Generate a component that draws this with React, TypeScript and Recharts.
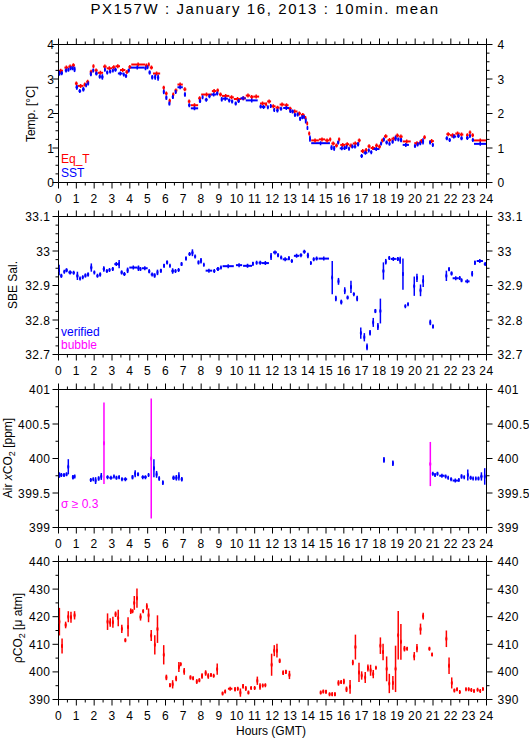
import React from "react";
import { ComposedChart, Scatter, XAxis, YAxis, ErrorBar } from "recharts";

// each entry: [start hour, end hour, value, error half-height]
type Seg = [number, number, number, number];

const hours = [0, 1, 2, 3, 4, 5, 6, 7, 8, 9, 10, 11, 12, 13, 14, 15, 16, 17, 18, 19, 20, 21, 22, 23, 24];
const tempTicks = [0, 1, 2, 3, 4];
const salTicks = [32.7, 32.8, 32.9, 33, 33.1];
const airTicks = [399, 399.5, 400, 400.5, 401];
const pco2Ticks = [390, 400, 410, 420, 430, 440];

const eqT: Seg[] = [
  [0.0, 0.25, 3.24, 0], [0.33, 0.55, 3.33, 0], [0.55, 0.75, 3.36, 0], [0.75, 0.92, 3.4, 0],
  [0.92, 1.08, 2.87, 0], [1.08, 1.4, 2.8, 0], [1.4, 1.55, 2.84, 0], [1.55, 1.72, 2.92, 0],
  [1.75, 1.9, 3.21, 0], [1.9, 2.02, 3.37, 0], [2.02, 2.2, 3.25, 0], [2.2, 2.5, 3.18, 0],
  [2.5, 2.7, 3.36, 0], [2.7, 3.0, 3.31, 0], [3.0, 3.2, 3.34, 0], [3.2, 3.45, 3.37, 0],
  [3.45, 3.75, 3.26, 0], [3.75, 3.92, 3.2, 0], [3.92, 4.08, 3.35, 0], [4.08, 4.85, 3.42, 0],
  [4.85, 5.0, 3.39, 0], [5.0, 5.12, 3.42, 0], [5.12, 5.3, 3.33, 0], [5.3, 5.7, 3.16, 0],
  [5.83, 5.97, 2.75, 0], [5.97, 6.12, 2.58, 0], [6.17, 6.3, 2.37, 0], [6.37, 6.5, 2.55, 0],
  [6.5, 6.67, 2.67, 0], [6.67, 6.97, 2.84, 0], [7.0, 7.17, 2.7, 0], [7.25, 7.4, 2.35, 0],
  [7.42, 7.83, 2.24, 0], [7.83, 8.0, 2.44, 0], [8.0, 8.6, 2.55, 0], [8.6, 8.85, 2.65, 0],
  [8.85, 9.0, 2.67, 0], [9.0, 9.17, 2.55, 0], [9.17, 9.58, 2.51, 0], [9.58, 9.83, 2.47, 0],
  [9.83, 10.25, 2.42, 0], [10.25, 10.5, 2.44, 0], [10.5, 10.75, 2.52, 0], [10.75, 10.92, 2.48, 0],
  [10.92, 11.25, 2.49, 0], [11.3, 11.58, 2.29, 0], [11.58, 11.7, 2.27, 0], [11.7, 11.92, 2.35, 0],
  [11.92, 12.17, 2.21, 0], [12.17, 12.4, 2.17, 0], [12.4, 12.67, 2.26, 0], [12.67, 12.9, 2.24, 0],
  [12.9, 13.08, 2.14, 0], [13.08, 13.4, 2.06, 0], [13.4, 13.6, 2.0, 0], [13.6, 13.8, 1.96, 0],
  [13.8, 13.9, 1.87, 0], [13.9, 14.0, 1.71, 0], [14.0, 14.12, 1.42, 0], [14.17, 14.6, 1.22, 0],
  [14.6, 14.95, 1.25, 0], [14.95, 15.17, 1.22, 0], [15.17, 15.3, 1.25, 0], [15.3, 15.5, 1.13, 0],
  [15.5, 15.67, 1.07, 0], [15.67, 15.8, 1.25, 0], [15.8, 16.08, 1.09, 0], [16.08, 16.3, 1.11, 0],
  [16.3, 16.5, 1.07, 0], [16.5, 16.78, 1.13, 0], [16.78, 16.95, 1.22, 0], [16.95, 17.17, 0.91, 0],
  [17.17, 17.33, 0.94, 0], [17.33, 17.5, 1.05, 0], [17.5, 17.75, 1.0, 0], [17.75, 17.92, 1.07, 0],
  [17.92, 18.08, 1.04, 0], [18.08, 18.25, 1.22, 0], [18.25, 18.45, 1.34, 0], [18.45, 18.67, 1.23, 0],
  [18.67, 18.9, 1.27, 0], [18.9, 19.1, 1.36, 0], [19.1, 19.3, 1.33, 0], [19.3, 19.75, 1.19, 0],
  [19.95, 20.25, 1.14, 0], [20.25, 20.45, 1.2, 0], [20.45, 20.6, 1.31, 0], [20.8, 21.05, 1.2, 0],
  [21.75, 21.95, 1.4, 0], [21.95, 22.25, 1.37, 0], [22.25, 22.5, 1.42, 0], [22.5, 22.7, 1.39, 0],
  [22.85, 23.0, 1.37, 0], [23.0, 23.15, 1.45, 0], [23.15, 23.3, 1.37, 0], [23.3, 24.0, 1.22, 0],
];

const sst: Seg[] = [
  [0.0, 0.1, 3.17, 0.07], [0.1, 0.25, 3.17, 0.05], [0.35, 0.5, 3.25, 0.03], [0.5, 0.62, 3.27, 0],
  [0.62, 0.75, 3.31, 0], [0.75, 0.85, 3.31, 0], [0.85, 0.95, 3.28, 0.08], [0.95, 1.1, 2.76, 0.07],
  [1.12, 1.27, 2.65, 0.03], [1.32, 1.47, 2.7, 0.06], [1.5, 1.6, 2.82, 0.03], [1.6, 1.72, 2.87, 0.02],
  [1.75, 1.88, 3.15, 0.07], [1.9, 2.0, 3.25, 0.03], [2.05, 2.2, 3.16, 0.04], [2.25, 2.37, 3.07, 0.05],
  [2.4, 2.52, 3.06, 0.08], [2.55, 2.65, 3.27, 0.03], [2.67, 2.8, 3.19, 0.03], [2.83, 2.97, 3.22, 0.03],
  [3.0, 3.1, 3.25, 0], [3.12, 3.27, 3.27, 0.02], [3.33, 3.6, 3.16, 0.03], [3.6, 3.72, 3.13, 0],
  [3.72, 3.85, 3.09, 0], [3.87, 4.0, 3.25, 0.03], [4.0, 4.83, 3.33, 0], [4.83, 4.93, 3.31, 0.02],
  [4.93, 5.05, 3.34, 0], [5.05, 5.17, 3.19, 0.05], [5.2, 5.32, 3.05, 0.06], [5.37, 5.48, 3.06, 0.08],
  [5.52, 5.65, 3.04, 0.09], [5.85, 5.95, 2.63, 0.07], [6.0, 6.1, 2.46, 0.06], [6.17, 6.27, 2.29, 0.05],
  [6.35, 6.47, 2.48, 0.05], [6.52, 6.62, 2.62, 0.03], [6.67, 6.97, 2.76, 0.02], [7.03, 7.15, 2.55, 0.06],
  [7.27, 7.4, 2.24, 0.03], [7.42, 7.83, 2.15, 0.03], [7.87, 8.0, 2.36, 0.04], [8.03, 8.13, 2.47, 0],
  [8.2, 8.37, 2.4, 0], [8.4, 8.53, 2.5, 0.02], [8.57, 8.83, 2.55, 0.02], [8.83, 8.97, 2.58, 0.04],
  [9.1, 9.2, 2.41, 0.06], [9.2, 9.5, 2.43, 0], [9.5, 9.65, 2.38, 0.03], [9.67, 9.8, 2.35, 0.03],
  [9.87, 10.0, 2.29, 0.04], [10.03, 10.17, 2.36, 0.03], [10.2, 10.5, 2.44, 0], [10.5, 11.17, 2.38, 0],
  [11.27, 11.4, 2.2, 0.03], [11.4, 11.6, 2.19, 0.03], [11.68, 11.8, 2.18, 0], [11.85, 11.95, 2.22, 0],
  [12.05, 12.15, 2.1, 0.02], [12.2, 12.35, 2.09, 0], [12.4, 12.55, 2.14, 0.03], [12.6, 12.95, 2.16, 0],
  [12.95, 13.05, 2.07, 0.03], [13.05, 13.2, 2.06, 0], [13.2, 13.32, 1.96, 0.03], [13.35, 13.47, 1.97, 0.03],
  [13.5, 13.6, 1.85, 0.05], [13.62, 13.72, 1.89, 0.05], [13.72, 13.82, 1.9, 0.03], [13.82, 13.9, 1.79, 0.08],
  [13.92, 14.0, 1.58, 0], [14.05, 14.15, 1.27, 0.09], [14.17, 15.22, 1.14, 0], [15.25, 15.37, 1.01, 0.07],
  [15.4, 15.52, 0.99, 0.07], [15.62, 15.75, 1.16, 0.04], [15.77, 16.0, 0.99, 0], [16.0, 16.1, 1.0, 0.02],
  [16.1, 16.2, 1.03, 0], [16.23, 16.35, 0.98, 0.03], [16.4, 16.55, 1.04, 0.03], [16.55, 16.7, 1.04, 0],
  [16.73, 16.87, 1.11, 0.06], [16.93, 17.07, 0.77, 0.03], [17.1, 17.32, 0.86, 0], [17.35, 17.45, 0.93, 0.02],
  [17.48, 17.6, 0.88, 0.03], [17.63, 18.0, 0.97, 0], [18.03, 18.15, 1.13, 0.03], [18.18, 18.3, 1.25, 0.05],
  [18.33, 18.47, 1.16, 0.03], [18.5, 18.62, 1.12, 0], [18.67, 18.8, 1.18, 0], [18.83, 18.97, 1.28, 0.08],
  [19.0, 19.12, 1.25, 0.04], [19.15, 19.27, 1.23, 0.06], [19.3, 19.65, 1.09, 0], [19.93, 20.05, 1.06, 0.02],
  [20.07, 20.2, 1.1, 0.02], [20.23, 20.35, 1.14, 0.04], [20.38, 20.5, 1.19, 0.09], [20.78, 20.9, 1.16, 0.04],
  [20.93, 21.05, 1.09, 0], [21.7, 21.85, 1.28, 0.03], [21.87, 22.0, 1.23, 0], [22.03, 22.3, 1.33, 0.03],
  [22.35, 22.5, 1.35, 0], [22.53, 22.67, 1.28, 0.03], [22.85, 23.0, 1.29, 0], [23.02, 23.12, 1.35, 0.03],
  [23.17, 23.3, 1.23, 0.03], [23.3, 24.0, 1.12, 0],
];

const sal: Seg[] = [
  [0.0, 0.07, 32.945, 0.015], [0.1, 0.22, 32.928, 0.005], [0.27, 0.38, 32.94, 0], [0.38, 0.52, 32.944, 0.005],
  [0.55, 0.75, 32.938, 0.005], [0.78, 0.92, 32.937, 0], [1.0, 1.12, 32.928, 0.012], [1.15, 1.27, 32.92, 0],
  [1.3, 1.42, 32.924, 0], [1.45, 1.57, 32.929, 0.005], [1.6, 1.72, 32.932, 0.005], [1.78, 1.9, 32.952, 0.012],
  [1.95, 2.07, 32.938, 0], [2.12, 2.25, 32.928, 0], [2.28, 2.4, 32.932, 0.005], [2.48, 2.6, 32.948, 0.008],
  [2.65, 2.78, 32.942, 0], [2.8, 2.92, 32.945, 0], [2.98, 3.1, 32.948, 0.005], [3.13, 3.35, 32.962, 0],
  [3.35, 3.45, 32.962, 0.012], [3.48, 3.6, 32.938, 0.005], [3.62, 3.77, 32.933, 0], [3.82, 3.93, 32.944, 0.008],
  [3.97, 4.42, 32.952, 0], [4.42, 4.55, 32.95, 0.008], [4.55, 4.65, 32.948, 0], [4.68, 5.0, 32.95, 0],
  [5.03, 5.15, 32.941, 0.005], [5.17, 5.33, 32.932, 0], [5.33, 5.45, 32.929, 0.006], [5.5, 5.6, 32.938, 0.008],
  [5.68, 5.8, 32.943, 0.005], [5.87, 5.97, 32.957, 0.005], [6.03, 6.15, 32.967, 0.005], [6.2, 6.3, 32.957, 0],
  [6.33, 6.47, 32.942, 0.008], [6.5, 6.62, 32.942, 0], [6.67, 6.8, 32.945, 0], [6.85, 6.95, 32.962, 0.005],
  [7.1, 7.2, 32.978, 0.005], [7.28, 7.42, 32.991, 0], [7.45, 7.57, 32.995, 0.01], [7.6, 7.72, 32.984, 0],
  [7.8, 7.9, 32.967, 0.005], [7.93, 8.05, 32.972, 0.008], [8.1, 8.2, 32.96, 0], [8.25, 8.62, 32.943, 0],
  [8.67, 8.8, 32.942, 0], [8.85, 9.03, 32.948, 0.005], [9.05, 9.17, 32.952, 0], [9.2, 9.83, 32.956, 0],
  [9.95, 10.3, 32.959, 0], [10.35, 10.85, 32.957, 0.004], [10.85, 10.95, 32.963, 0.005], [11.05, 11.17, 32.966, 0],
  [11.22, 11.4, 32.966, 0], [11.4, 11.8, 32.965, 0], [11.87, 11.97, 32.984, 0.01], [12.03, 12.25, 32.996, 0],
  [12.25, 12.37, 32.988, 0.005], [12.42, 12.55, 32.981, 0], [12.57, 12.85, 32.976, 0], [12.87, 12.97, 32.979, 0.005],
  [13.02, 13.15, 32.971, 0], [13.2, 13.5, 32.986, 0.003], [13.52, 13.67, 32.988, 0], [13.7, 13.87, 32.998, 0],
  [13.92, 14.05, 32.987, 0.008], [14.1, 14.2, 32.965, 0.003], [14.25, 14.37, 32.976, 0.003], [14.4, 14.55, 32.978, 0],
  [14.58, 15.17, 32.978, 0], [15.3, 15.4, 32.923, 0.048], [15.5, 15.6, 32.862, 0.008], [15.65, 15.75, 32.912, 0.01],
  [15.8, 15.92, 32.852, 0.007], [16.0, 16.1, 32.885, 0.01], [16.15, 16.27, 32.865, 0.004], [16.35, 16.45, 32.896, 0.018],
  [16.5, 16.62, 32.875, 0.003], [16.7, 16.8, 32.862, 0.008], [16.9, 17.0, 32.762, 0.016], [17.1, 17.2, 32.75, 0.012],
  [17.25, 17.35, 32.722, 0.01], [17.42, 17.52, 32.763, 0.008], [17.6, 17.7, 32.793, 0.013], [17.72, 17.82, 32.826, 0.006],
  [17.87, 17.95, 32.781, 0.01], [18.0, 18.1, 32.826, 0.036], [18.17, 18.27, 32.942, 0.025], [18.3, 18.4, 32.969, 0.008],
  [18.5, 18.6, 32.98, 0.004], [18.63, 18.92, 32.977, 0], [18.95, 19.1, 32.977, 0.005], [19.12, 19.2, 32.973, 0.01],
  [19.28, 19.35, 32.933, 0.045], [19.4, 19.5, 32.84, 0.002], [19.55, 19.65, 32.846, 0.002], [19.9, 20.0, 32.898, 0.028],
  [20.05, 20.15, 32.922, 0.012], [20.25, 20.35, 32.886, 0.017], [20.4, 20.5, 32.913, 0.017], [20.8, 20.9, 32.793, 0.008],
  [20.95, 21.05, 32.781, 0.005], [21.7, 21.8, 32.928, 0.015], [21.85, 21.95, 32.947, 0.005], [21.98, 22.1, 32.935, 0.005],
  [22.1, 22.45, 32.921, 0], [22.45, 22.55, 32.922, 0], [22.55, 22.65, 32.915, 0.004], [22.8, 23.05, 32.912, 0],
  [23.15, 23.25, 32.934, 0.008], [23.3, 23.4, 32.966, 0.006], [23.45, 23.8, 32.971, 0], [23.85, 24.0, 32.962, 0],
];

const airCo2: Seg[] = [
  [0.0, 0.1, 399.76, 0.04], [0.1, 0.22, 399.76, 0.02], [0.25, 0.37, 399.76, 0.02], [0.4, 0.5, 399.77, 0.02],
  [0.5, 0.6, 399.88, 0.11], [0.75, 0.87, 399.73, 0.03], [0.87, 0.95, 399.74, 0], [1.75, 1.87, 399.69, 0],
  [1.9, 2.0, 399.7, 0], [2.03, 2.13, 399.68, 0.05], [2.2, 2.3, 399.71, 0.03], [2.35, 2.45, 399.74, 0.05],
  [2.68, 2.82, 399.73, 0], [2.85, 3.03, 399.72, 0], [3.07, 3.15, 399.74, 0.01], [3.2, 3.3, 399.72, 0.02],
  [3.35, 3.45, 399.73, 0.02], [3.5, 3.62, 399.7, 0], [3.65, 3.85, 399.7, 0], [4.1, 4.2, 399.73, 0.03],
  [4.25, 4.35, 399.78, 0.05], [4.4, 4.52, 399.77, 0.02], [4.65, 4.8, 399.73, 0], [4.8, 4.95, 399.73, 0],
  [5.0, 5.1, 399.76, 0], [5.3, 5.4, 399.86, 0.13], [5.45, 5.55, 399.77, 0.05], [5.6, 5.7, 399.71, 0.03],
  [5.8, 5.9, 399.65, 0.03], [6.38, 6.52, 399.72, 0.03], [6.55, 6.67, 399.72, 0.04], [6.7, 6.8, 399.74, 0.06],
  [6.85, 6.97, 399.7, 0.03], [18.2, 18.3, 399.98, 0.04], [18.7, 18.8, 399.93, 0.04], [20.93, 21.05, 399.78, 0],
  [21.08, 21.15, 399.76, 0.02], [21.2, 21.3, 399.78, 0.02], [21.35, 21.65, 399.75, 0], [21.65, 21.77, 399.74, 0],
  [21.8, 21.9, 399.72, 0], [21.95, 22.08, 399.7, 0], [22.1, 22.4, 399.68, 0], [22.4, 22.5, 399.69, 0],
  [22.55, 22.65, 399.74, 0.03], [22.7, 22.8, 399.73, 0], [22.9, 23.0, 399.76, 0.08], [23.05, 23.17, 399.72, 0.02],
  [23.2, 23.3, 399.71, 0], [23.35, 23.45, 399.71, 0], [23.5, 23.6, 399.71, 0.02], [23.65, 23.78, 399.74, 0.06],
  [23.85, 23.95, 399.74, 0.12],
];

const airCo2Sigma: Seg[] = [
  [2.5, 2.6, 400.22, 0.59], [5.15, 5.25, 400.0, 0.87], [20.8, 20.9, 399.92, 0.32],
];

const pco2: Seg[] = [
  [0.0, 0.1, 418.2, 5], [0.15, 0.25, 409.4, 2.7], [0.35, 0.45, 417, 1.2], [0.5, 0.6, 420, 2],
  [0.65, 0.75, 419.8, 2], [0.85, 0.95, 420.5, 1.5], [2.7, 2.8, 418.2, 3], [2.85, 2.95, 417.9, 1.5],
  [3.0, 3.1, 418, 2], [3.15, 3.25, 420.9, 1], [3.3, 3.4, 419.5, 3], [3.5, 3.6, 415.6, 1.5],
  [3.7, 3.8, 411.5, 0.6], [3.85, 3.95, 416.3, 3.5], [4.0, 4.1, 422, 1], [4.1, 4.2, 422, 0.5],
  [4.2, 4.3, 425, 2.5], [4.35, 4.45, 426.7, 3.5], [4.55, 4.65, 419.9, 1.3], [4.7, 4.8, 422, 0.5],
  [4.9, 5.0, 423.7, 1.2], [5.0, 5.1, 420.5, 2.5], [5.15, 5.25, 413.2, 2], [5.35, 5.45, 409.8, 3.5],
  [5.5, 5.6, 415.5, 5], [5.85, 5.95, 406.2, 3.5], [6.0, 6.1, 398, 1], [6.2, 6.3, 395.2, 0.7],
  [6.35, 6.45, 395.5, 1.5], [6.55, 6.65, 397.6, 1], [6.7, 6.8, 401.8, 1.8], [6.8, 6.9, 402.8, 0.5],
  [7.0, 7.1, 400.2, 1.2], [7.35, 7.45, 398, 0.7], [7.5, 7.6, 397.7, 0.5], [7.7, 7.8, 396.5, 0.8],
  [7.85, 7.95, 397, 0.6], [8.0, 8.1, 398.5, 1], [8.2, 8.3, 399.6, 1], [8.35, 8.45, 398.5, 1],
  [8.5, 8.6, 398.9, 0.5], [8.65, 8.75, 398.6, 0.4], [8.85, 8.95, 401, 2], [9.15, 9.25, 392.2, 0.5],
  [9.3, 9.4, 392.9, 0.5], [9.5, 9.75, 393.9, 0], [9.85, 9.95, 393.7, 0.7], [10.0, 10.1, 393.9, 0.5],
  [10.15, 10.25, 392.5, 1.5], [10.3, 10.4, 394.8, 0.8], [10.45, 10.55, 394, 0.8], [10.6, 10.7, 392.5, 0.5],
  [10.75, 10.85, 394.2, 0.3], [10.95, 11.05, 394.2, 0.3], [11.1, 11.2, 396.8, 1.5], [11.25, 11.35, 394.7, 1.2],
  [11.4, 11.5, 395.1, 0.3], [11.55, 11.65, 395.2, 0.3], [11.9, 12.0, 402.6, 4], [12.05, 12.15, 407.7, 2],
  [12.2, 12.3, 407.7, 2.5], [12.35, 12.45, 404, 0.8], [12.55, 12.65, 399.7, 0.8], [12.7, 12.8, 400, 0.8],
  [12.9, 13.0, 398.9, 1.5], [14.65, 14.75, 392.5, 0.5], [14.8, 14.9, 392.9, 0.5], [14.95, 15.05, 392.8, 0.6],
  [15.15, 15.25, 391.9, 0.4], [15.3, 15.4, 391.9, 0.6], [15.45, 15.55, 391.9, 0.6], [15.65, 15.75, 396, 1],
  [15.8, 15.9, 396.3, 0.5], [15.95, 16.05, 396.5, 1], [16.1, 16.2, 393.7, 1], [16.3, 16.4, 394.6, 2.5],
  [16.45, 16.55, 403.4, 1], [16.6, 16.7, 409, 4.5], [16.8, 16.9, 399.8, 3.5], [16.95, 17.05, 398.7, 1.5],
  [17.15, 17.25, 398, 2], [17.3, 17.4, 401.4, 1.3], [17.45, 17.55, 400.6, 2], [17.6, 17.7, 399.2, 1.5],
  [17.75, 17.85, 401.5, 0.3], [18.0, 18.1, 409.5, 3], [18.15, 18.25, 407.2, 3], [18.35, 18.45, 401.1, 4.5],
  [18.5, 18.6, 395.8, 3.5], [18.7, 18.8, 396, 2.5], [18.85, 18.95, 401.1, 8.4], [19.0, 19.1, 413.3, 8.8],
  [19.15, 19.25, 410.9, 6.5], [19.35, 19.45, 408.4, 1], [19.5, 19.6, 408.4, 0.5], [19.9, 20.0, 405.7, 1.5],
  [20.05, 20.15, 408.6, 1.5], [20.25, 20.35, 415.5, 2], [20.4, 20.5, 420.2, 1.2], [20.75, 20.85, 408.4, 0.5],
  [20.9, 21.0, 406.3, 0.5], [21.7, 21.8, 412, 3], [21.85, 21.95, 402.2, 3], [22.0, 22.1, 396, 2],
  [22.15, 22.25, 393.3, 0.5], [22.3, 22.4, 393.7, 0.5], [22.45, 22.55, 392.7, 0.3], [22.8, 22.9, 393.7, 0.3],
  [22.95, 23.05, 393.7, 0.3], [23.1, 23.2, 393.4, 0.3], [23.25, 23.35, 393.1, 0.3], [23.45, 23.55, 393.5, 0.3],
  [23.6, 23.7, 393.1, 0.3], [23.75, 23.85, 393.8, 0.3],
];

const RED = "#ff0000";
const BLUE = "#0000ff";
const MAGENTA = "#ff00ff";
const FONT = '"Liberation Sans", Arial, Helvetica, sans-serif';

const W = 529;
const PLOT_H = 138;
const AXIS_H = 30;

const toRows = (segs: Seg[]) =>
  segs.map(([a, b, v, e]) => ({ t: (a + b) / 2, v, ex: (b - a) / 2, ey: e }));

const hourTicks = [...hours, ...hours.slice(1).map((h) => h - 0.5)].sort((a, b) => a - b);

// small vertical stroke so every point reads as a "+"
const mark = (color: string) => (p: any) =>
  <line x1={p.cx} x2={p.cx} y1={p.cy - 2} y2={p.cy + 2} stroke={color} strokeWidth={1.5} />;

function XTick(props: any) {
  const { x, y, payload, side } = props;
  const v = payload.value;
  const major = Number.isInteger(v);
  const dir = side === "top" ? -1 : 1;
  return (
    <g>
      <line x1={x} x2={x} y1={y} y2={y + dir * (major ? 6 : 3)} stroke="#000" />
      {side === "bottom" && major && (
        <text x={x} y={y + 20} textAnchor="middle" fontSize={12} fontFamily={FONT} letterSpacing={0.5} fill="#000">
          {v}
        </text>
      )}
    </g>
  );
}

function YTick(props: any) {
  const { x, y, payload, side, majors, step, gap } = props;
  const v = payload.value;
  const m = majors.find((t: number) => Math.abs(t - v) < step / 10);
  const dir = side === "left" ? -1 : 1;
  const len = m !== undefined ? 6 : 3;
  return (
    <g>
      <line x1={x} x2={x + dir * len} y1={y} y2={y} stroke="#000" />
      {m !== undefined && (
        <text
          x={side === "left" ? x - gap : x + 11}
          y={y + 4.5}
          textAnchor={side === "left" ? "end" : "start"}
          fontSize={12}
          fontFamily={FONT}
          letterSpacing={0.5}
          fill="#000"
        >
          {String(m)}
        </text>
      )}
    </g>
  );
}

type Series = { segs: Seg[]; color: string };

function Panel({ top, majors, sub, gap, series }: { top: number; majors: number[]; sub: number; gap: number; series: Series[] }) {
  const step = (majors[1] - majors[0]) / sub;
  const yTicks: number[] = [];
  for (let i = 0; i < majors.length - 1; i++) {
    for (let k = 0; k < sub; k++) yTicks.push(majors[i] + k * step);
  }
  yTicks.push(majors[majors.length - 1]);
  const domain = [majors[0], majors[majors.length - 1]];
  const axisLine = { stroke: "#000", strokeWidth: 1 };
  return (
    <div style={{ position: "absolute", left: 0, top: top - AXIS_H }}>
      <ComposedChart width={W} height={PLOT_H + 2 * AXIS_H + 1} margin={{ top: 0.5, right: 0.5, bottom: 0.5, left: 0.5 }}>
        <XAxis xAxisId="b" type="number" dataKey="t" domain={[0, 24]} allowDataOverflow ticks={hourTicks} interval={0}
          height={AXIS_H} tickSize={0} tickMargin={0} tickLine={false} axisLine={axisLine}
          tick={(p: any) => <XTick {...p} side="bottom" />} />
        <XAxis xAxisId="t" orientation="top" type="number" dataKey="t" domain={[0, 24]} allowDataOverflow ticks={hourTicks}
          interval={0} height={AXIS_H} tickSize={0} tickMargin={0} tickLine={false} axisLine={axisLine}
          tick={(p: any) => <XTick {...p} side="top" />} />
        <YAxis yAxisId="l" type="number" dataKey="v" domain={domain} allowDataOverflow ticks={yTicks} interval={0}
          width={58} tickSize={0} tickMargin={0} tickLine={false} axisLine={axisLine}
          tick={(p: any) => <YTick {...p} side="left" majors={majors} step={step} gap={gap} />} />
        <YAxis yAxisId="r" orientation="right" type="number" dataKey="v" domain={domain} allowDataOverflow ticks={yTicks}
          interval={0} width={42} tickSize={0} tickMargin={0} tickLine={false} axisLine={axisLine}
          tick={(p: any) => <YTick {...p} side="right" majors={majors} step={step} gap={gap} />} />
        {series.map((s, i) => (
          <Scatter key={i} data={toRows(s.segs)} xAxisId="b" yAxisId="l" shape={mark(s.color)} isAnimationActive={false}>
            <ErrorBar dataKey="ex" direction="x" width={0} stroke={s.color} strokeWidth={2} isAnimationActive={false} />
            <ErrorBar dataKey="ey" direction="y" width={0} stroke={s.color} strokeWidth={1.5} isAnimationActive={false} />
          </Scatter>
        ))}
      </ComposedChart>
    </div>
  );
}

function VLabel({ x, y, children }: { x: number; y: number; children: React.ReactNode }) {
  return (
    <text x={x} y={y} transform={`rotate(-90 ${x} ${y})`} textAnchor="middle" dy="0.35em" fontSize={12} fontFamily={FONT} fill="#000">
      {children}
    </text>
  );
}

export default function App() {
  return (
    <div style={{ position: "absolute", left: 0, top: 0, width: W, height: 739, background: "#fff" }}>
      <Panel top={44} majors={tempTicks} sub={4} gap={4} series={[{ segs: eqT, color: RED }, { segs: sst, color: BLUE }]} />
      <Panel top={216} majors={salTicks} sub={4} gap={8} series={[{ segs: sal, color: BLUE }]} />
      <Panel top={389} majors={airTicks} sub={2} gap={8} series={[{ segs: airCo2, color: BLUE }, { segs: airCo2Sigma, color: MAGENTA }]} />
      <Panel top={561} majors={pco2Ticks} sub={2} gap={8} series={[{ segs: pco2, color: RED }]} />
      <svg width={W} height={739} style={{ position: "absolute", left: 0, top: 0, pointerEvents: "none" }}>
        <text x={265} y={14} textAnchor="middle" fontSize={15} letterSpacing={1.6} fontFamily={FONT} fill="#000">
          PX157W : January 16, 2013 : 10min. mean
        </text>
        <VLabel x={31} y={114}>Temp. [°C]</VLabel>
        <VLabel x={13} y={285}>SBE Sal.</VLabel>
        <VLabel x={8} y={458}>
          Air <tspan fontStyle="italic">x</tspan>CO<tspan fontSize={9} dy={3}>2</tspan><tspan dy={-3}> [ppm]</tspan>
        </VLabel>
        <VLabel x={18} y={628}>
          ρCO<tspan fontSize={9} dy={3}>2</tspan><tspan dy={-3}> [μ atm]</tspan>
        </VLabel>
        <text x={61} y={163} fontSize={12} fontFamily={FONT} fill={RED}>Eq_T</text>
        <text x={61} y={177} fontSize={12} fontFamily={FONT} fill={BLUE}>SST</text>
        <text x={61} y={336} fontSize={12} fontFamily={FONT} fill={BLUE}>verified</text>
        <text x={61} y={349} fontSize={12} fontFamily={FONT} fill={MAGENTA}>bubble</text>
        <text x={61} y={508} fontSize={12} fontFamily={FONT} fill={MAGENTA}>σ ≥ 0.3</text>
        <text x={271} y={735} textAnchor="middle" fontSize={12} fontFamily={FONT} fill="#000">Hours (GMT)</text>
      </svg>
    </div>
  );
}
